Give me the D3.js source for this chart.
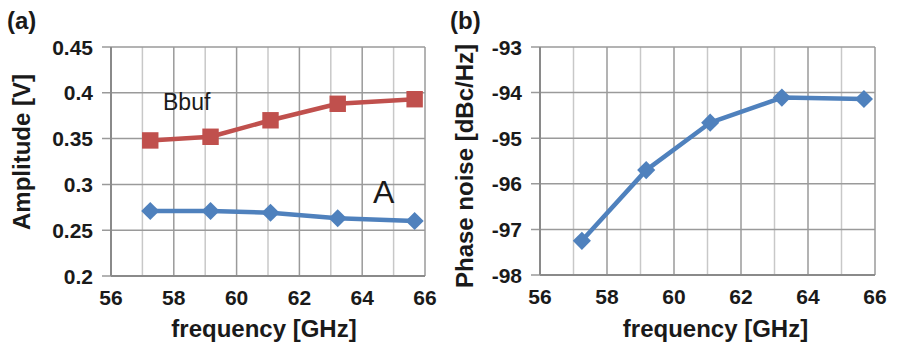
<!DOCTYPE html>
<html>
<head>
<meta charset="utf-8">
<script src="https://cdn.jsdelivr.net/npm/d3@7"></script>
<style>
  html, body { margin: 0; padding: 0; background: #fff; }
  svg { display: block; font-family: "Liberation Sans", Arial, sans-serif; }
</style>
</head>
<body>
<svg id="chart" width="898" height="348"></svg>
<script>
// Measured oscillator data versus frequency
const frequency = [57.25, 59.17, 61.08, 63.22, 65.67];
const amplitudeBbuf = [0.348, 0.352, 0.370, 0.388, 0.393];
const amplitudeA = [0.271, 0.271, 0.269, 0.263, 0.260];
const phaseNoise = [-97.25, -95.70, -94.66, -94.11, -94.14];

const freqTicks = [56, 58, 60, 62, 64, 66];
const freqMinor = [57, 59, 61, 63, 65];
const ampTicks = [0.2, 0.25, 0.3, 0.35, 0.4, 0.45];
const pnTicks = [-98, -97, -96, -95, -94, -93];

const RED = "#c0504d";
const BLUE = "#4f81bd";

const svg = d3.select("#chart");

function panel(opts) {
  const g = svg.append("g");
  const x = d3.scaleLinear().domain([56, 66]).range([opts.left, opts.right]);
  const y = d3.scaleLinear().domain(opts.yDomain).range([opts.bottom, opts.top]);

  // minor vertical grid
  g.append("g").selectAll("line").data(freqMinor).join("line")
    .attr("x1", d => x(d)).attr("x2", d => x(d))
    .attr("y1", opts.top).attr("y2", opts.bottom)
    .attr("stroke", "#c8c8c8").attr("stroke-width", 1.5);
  // major vertical grid
  g.append("g").selectAll("line").data(freqTicks).join("line")
    .attr("x1", d => x(d)).attr("x2", d => x(d))
    .attr("y1", opts.top).attr("y2", opts.bottom)
    .attr("stroke", "#9a9a9a").attr("stroke-width", 1.5);
  // horizontal grid with tick stubs on the left
  g.append("g").selectAll("line").data(opts.yTicks).join("line")
    .attr("x1", opts.left - 9).attr("x2", opts.right)
    .attr("y1", d => y(d)).attr("y2", d => y(d))
    .attr("stroke", "#9a9a9a").attr("stroke-width", 1.5);
  // axis lines
  g.append("line").attr("x1", opts.left).attr("x2", opts.left)
    .attr("y1", opts.top).attr("y2", opts.bottom)
    .attr("stroke", "#8a8a8a").attr("stroke-width", 2);
  g.append("line").attr("x1", opts.left).attr("x2", opts.right)
    .attr("y1", opts.bottom).attr("y2", opts.bottom)
    .attr("stroke", "#8a8a8a").attr("stroke-width", 2);

  // tick labels
  g.append("g").selectAll("text").data(opts.yTicks).join("text")
    .attr("x", opts.left - 18).attr("y", d => y(d)).attr("dy", "0.36em")
    .attr("text-anchor", "end").attr("font-size", 21).attr("font-weight", "bold")
    .attr("fill", "#1a1a1a")
    .text(opts.yFormat);
  g.append("g").selectAll("text").data(freqTicks).join("text")
    .attr("x", d => x(d)).attr("y", opts.bottom + 29)
    .attr("text-anchor", "middle").attr("font-size", 21).attr("font-weight", "bold")
    .attr("fill", "#1a1a1a")
    .text(d => d);

  // axis titles
  g.append("text")
    .attr("x", (opts.left + opts.right) / 2 + opts.xTitleShift).attr("y", 337)
    .attr("text-anchor", "middle").attr("font-size", 24).attr("font-weight", "bold")
    .attr("fill", "#1a1a1a")
    .text("frequency [GHz]");
  g.append("text")
    .attr("transform", `translate(${opts.yTitleX},${opts.yTitleY}) rotate(-90)`)
    .attr("text-anchor", "middle").attr("font-size", 24).attr("font-weight", "bold")
    .attr("fill", "#1a1a1a")
    .text(opts.yTitle);

  // panel tag
  g.append("text").attr("x", opts.tagX).attr("y", 29)
    .attr("font-size", 24).attr("font-weight", "bold").attr("fill", "#1a1a1a")
    .text(opts.tag);

  return { g, x, y };
}

function series(p, values, color, marker) {
  const pts = frequency.map((f, i) => [f, values[i]]);
  const line = d3.line().x(d => p.x(d[0])).y(d => p.y(d[1]));
  p.g.append("path").datum(pts).attr("d", line)
    .attr("fill", "none").attr("stroke", color).attr("stroke-width", 4.5)
    .attr("stroke-linejoin", "round");
  const sym = d3.symbol().type(marker === "square" ? d3.symbolSquare : d3.symbolDiamond2)
    .size(marker === "square" ? 270 : 210);
  p.g.append("g").selectAll("path").data(pts).join("path")
    .attr("transform", d => `translate(${p.x(d[0])},${p.y(d[1])})`)
    .attr("d", sym).attr("fill", color);
}

// (a) amplitude
const pa = panel({
  left: 111, right: 425, top: 47, bottom: 276,
  yDomain: [0.2, 0.45], yTicks: ampTicks,
  yFormat: d => d3.format("")(+d.toFixed(2)),
  yTitle: "Amplitude [V]", yTitleX: 30, yTitleY: 152,
  xTitleShift: -4, tag: "(a)", tagX: 7
});
series(pa, amplitudeBbuf, RED, "square");
series(pa, amplitudeA, BLUE, "diamond");
pa.g.append("text").attr("x", 163).attr("y", 110)
  .attr("font-size", 23).attr("fill", "#1a1a1a").text("Bbuf");
pa.g.append("text").attr("x", 373).attr("y", 203)
  .attr("font-size", 32).attr("fill", "#1a1a1a").text("A");

// (b) phase noise
const pb = panel({
  left: 540, right: 875, top: 47, bottom: 275,
  yDomain: [-98, -93], yTicks: pnTicks,
  yFormat: d => String(d),
  yTitle: "Phase noise [dBc/Hz]", yTitleX: 473, yTitleY: 166,
  xTitleShift: 8, tag: "(b)", tagX: 450
});
series(pb, phaseNoise, BLUE, "diamond");
</script>
</body>
</html>
